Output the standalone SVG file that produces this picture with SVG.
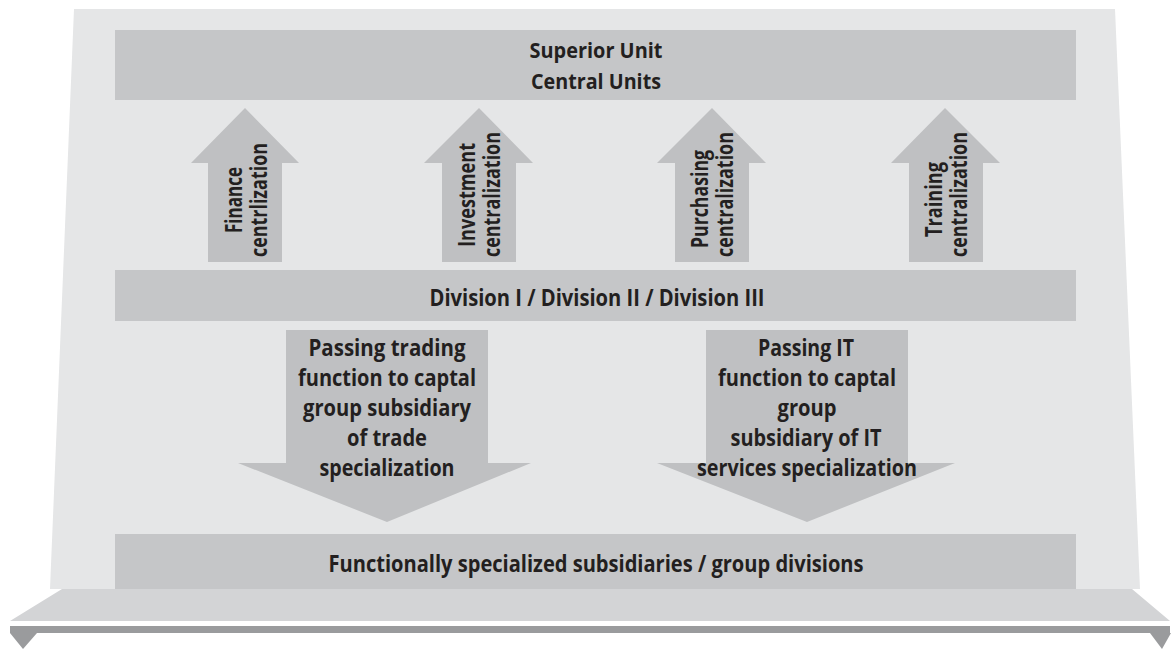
<svg xmlns="http://www.w3.org/2000/svg" width="1171" height="649" viewBox="0 0 1171 649">
<style>
  text { font-family: "Open Sans", "Liberation Sans", sans-serif; font-weight: 700; fill: #231f20; text-anchor: middle; font-size: 24px; }
  .head { font-size: 22px; }
  .box { fill: #c5c6c8; }
  .arr { fill: #bfc0c2; }
</style>
<rect width="1171" height="649" fill="#ffffff"/>
<g id="stage">
  <polygon points="74,9 1115,9 1140,589 50,589" fill="#e5e6e7"/>
  <polygon points="62,589 1132,589 1170,621 10,621" fill="#d3d4d6"/>
  <rect x="10" y="626" width="1160" height="7" fill="#9a9b9d"/>
  <polygon points="10,633 37,633 23,649" fill="#9a9b9d"/>
  <polygon points="1150,633 1171,633 1162,649" fill="#9a9b9d"/>
</g>
<g id="superior">
  <rect class="box" x="115" y="30" width="961" height="70"/>
  <text class="head" x="596" y="58" textLength="133" lengthAdjust="spacingAndGlyphs">Superior Unit</text>
  <text class="head" x="596" y="89" textLength="130" lengthAdjust="spacingAndGlyphs">Central Units</text>
</g>
<g id="divisions">
  <rect class="box" x="115" y="270" width="961" height="51"/>
  <text x="597" y="306" textLength="335" lengthAdjust="spacingAndGlyphs">Division I / Division II / Division III</text>
</g>
<g id="subsidiaries">
  <rect class="box" x="115" y="534" width="961" height="55"/>
  <text x="596" y="572" textLength="535" lengthAdjust="spacingAndGlyphs">Functionally specialized subsidiaries / group divisions</text>
</g>
<g id="connectors">
  <g id="up-finance">
    <polygon class="arr" points="245,108 299,163 282,163 282,262 208,262 208,163 191,163"/>
    <text transform="translate(242,200) rotate(-90)" x="0" y="0" textLength="66" lengthAdjust="spacingAndGlyphs">Finance</text>
    <text transform="translate(267,200) rotate(-90)" x="0" y="0" textLength="114" lengthAdjust="spacingAndGlyphs">centrlization</text>
  </g>
  <g id="up-investment">
    <polygon class="arr" points="479,108 533,163 516,163 516,262 442,262 442,163 424,163"/>
    <text transform="translate(475,195) rotate(-90)" x="0" y="0" textLength="104" lengthAdjust="spacingAndGlyphs">Investment</text>
    <text transform="translate(500,194.5) rotate(-90)" x="0" y="0" textLength="125" lengthAdjust="spacingAndGlyphs">centralization</text>
  </g>
  <g id="up-purchasing">
    <polygon class="arr" points="712,108 766,163 749,163 749,262 675,262 675,163 657,163"/>
    <text transform="translate(708,199) rotate(-90)" x="0" y="0" textLength="98" lengthAdjust="spacingAndGlyphs">Purchasing</text>
    <text transform="translate(733,194.5) rotate(-90)" x="0" y="0" textLength="125" lengthAdjust="spacingAndGlyphs">centralization</text>
  </g>
  <g id="up-training">
    <polygon class="arr" points="945,108 1000,163 983,163 983,262 909,262 909,163 891,163"/>
    <text transform="translate(942,199.5) rotate(-90)" x="0" y="0" textLength="75" lengthAdjust="spacingAndGlyphs">Training</text>
    <text transform="translate(967,194.5) rotate(-90)" x="0" y="0" textLength="125" lengthAdjust="spacingAndGlyphs">centralization</text>
  </g>
  <g id="down-trading">
    <polygon class="arr" points="286,330 488,330 488,463 531,463 387,522 238,463 286,463"/>
    <text x="387" y="356" textLength="157" lengthAdjust="spacingAndGlyphs">Passing trading</text>
    <text x="387" y="386" textLength="178" lengthAdjust="spacingAndGlyphs">function to captal</text>
    <text x="387" y="416" textLength="168" lengthAdjust="spacingAndGlyphs">group subsidiary</text>
    <text x="387" y="446" textLength="80" lengthAdjust="spacingAndGlyphs">of trade</text>
    <text x="387" y="476" textLength="135" lengthAdjust="spacingAndGlyphs">specialization</text>
  </g>
  <g id="down-it">
    <polygon class="arr" points="706,330 908,330 908,463 955,463 807,522 657,463 706,463"/>
    <text x="806" y="356" textLength="96" lengthAdjust="spacingAndGlyphs">Passing IT</text>
    <text x="807" y="386" textLength="178" lengthAdjust="spacingAndGlyphs">function to captal</text>
    <text x="807" y="416" textLength="59" lengthAdjust="spacingAndGlyphs">group</text>
    <text x="806" y="446" textLength="151" lengthAdjust="spacingAndGlyphs">subsidiary of IT</text>
    <text x="807" y="476" textLength="220" lengthAdjust="spacingAndGlyphs">services specialization</text>
  </g>
</g>
</svg>
